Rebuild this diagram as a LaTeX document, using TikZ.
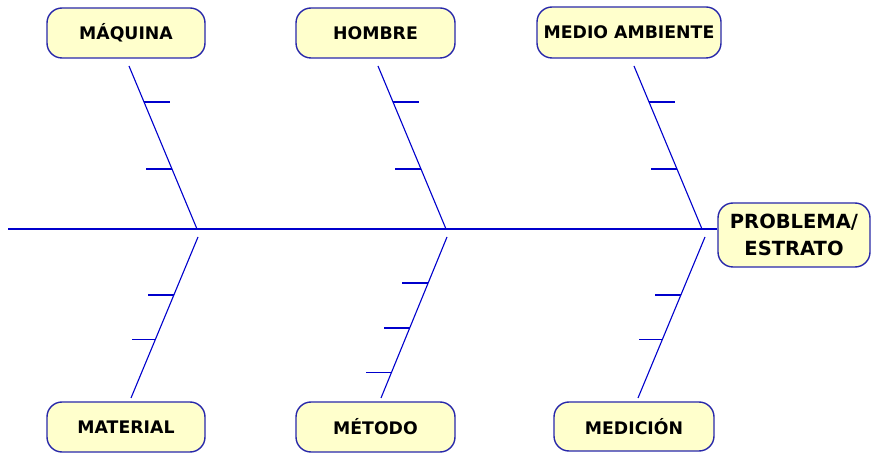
\documentclass[tikz,border=0pt]{standalone}
\usepackage{fontspec}
\setmainfont{DejaVu Sans}
\usetikzlibrary{calc}
\definecolor{espina}{RGB}{0,0,204}
\definecolor{borde}{RGB}{40,40,170}
\definecolor{relleno}{RGB}{255,255,204}
\tikzset{
  causa/.style={draw=borde, fill=relleno, line width=1.4pt, rounded corners=15pt,
    minimum width=158pt, minimum height=50pt, inner sep=0pt, align=center,
    font=\fontsize{17.3}{26}\selectfont\bfseries},
  efecto/.style={causa, font=\fontsize{19.5}{27}\selectfont\bfseries},
  hueso/.style={draw=espina, line width=1.1pt},
}

\begin{document}
\begin{tikzpicture}[x=1pt,y=-1pt]
		\useasboundingbox (0,0) rectangle (871,454);
		%%%%% CAJAS %%%%%
		\node[causa] (maquina) at (126,33) {MÁQUINA};
		\node[causa, minimum width=159pt] (hombre) at (375.5,33) {HOMBRE};
		\node[causa, minimum width=184pt, minimum height=51pt] (medio) at (629,32.5) {MEDIO AMBIENTE};
		\node[causa] (material) at (126,427) {MATERIAL};
		\node[causa, minimum width=159pt] (metodo) at (375.5,427) {MÉTODO};
		\node[causa, minimum width=160pt, minimum height=49pt] (medicion) at (634,426.5) {MEDICIÓN};
		\node[efecto, minimum width=152pt, minimum height=64pt] (problema) at (794,235) {PROBLEMA/\\ESTRATO};
		
		%%%%% ESPINA %%%%%
		\coordinate (cola) at (8,229);
		\draw[hueso] (cola) -- (cola -| problema.west);
		
		%%%%% CAUSAS DE ARRIBA %%%%%
		\foreach \n/\dx in {maquina/0, hombre/249, medio/505}{
			\coordinate (\n-a) at (129+\dx,66);
			\coordinate (\n-b) at (197+\dx,229);
			\draw[hueso] (\n-a) -- (\n-b);
			\draw[hueso] ($(\n-a)!0.221!(\n-b)$) -- ++(26,0);
			\draw[hueso] ($(\n-a)!0.632!(\n-b)$) -- ++(-26,0);
		}
		
		%%%%% CAUSAS DE ABAJO %%%%%
		\foreach \n/\dx in {material/0, medicion/507}{
			\coordinate (\n-a) at (198+\dx,237);
			\coordinate (\n-b) at (131+\dx,398);
			\draw[hueso] (\n-a) -- (\n-b);
			\draw[hueso] ($(\n-a)!0.36!(\n-b)$) -- ++(-26,0);
			\draw[hueso] ($(\n-a)!0.634!(\n-b)$) -- ++(-24,0);
		}
		\coordinate (metodo-a) at (447,237);
		\coordinate (metodo-b) at (381,398);
		\draw[hueso] (metodo-a) -- (metodo-b);
		\foreach \t in {0.286, 0.565, 0.839}
			\draw[hueso] ($(metodo-a)!\t!(metodo-b)$) -- ++(-26,0);
\end{tikzpicture}
\end{document}
